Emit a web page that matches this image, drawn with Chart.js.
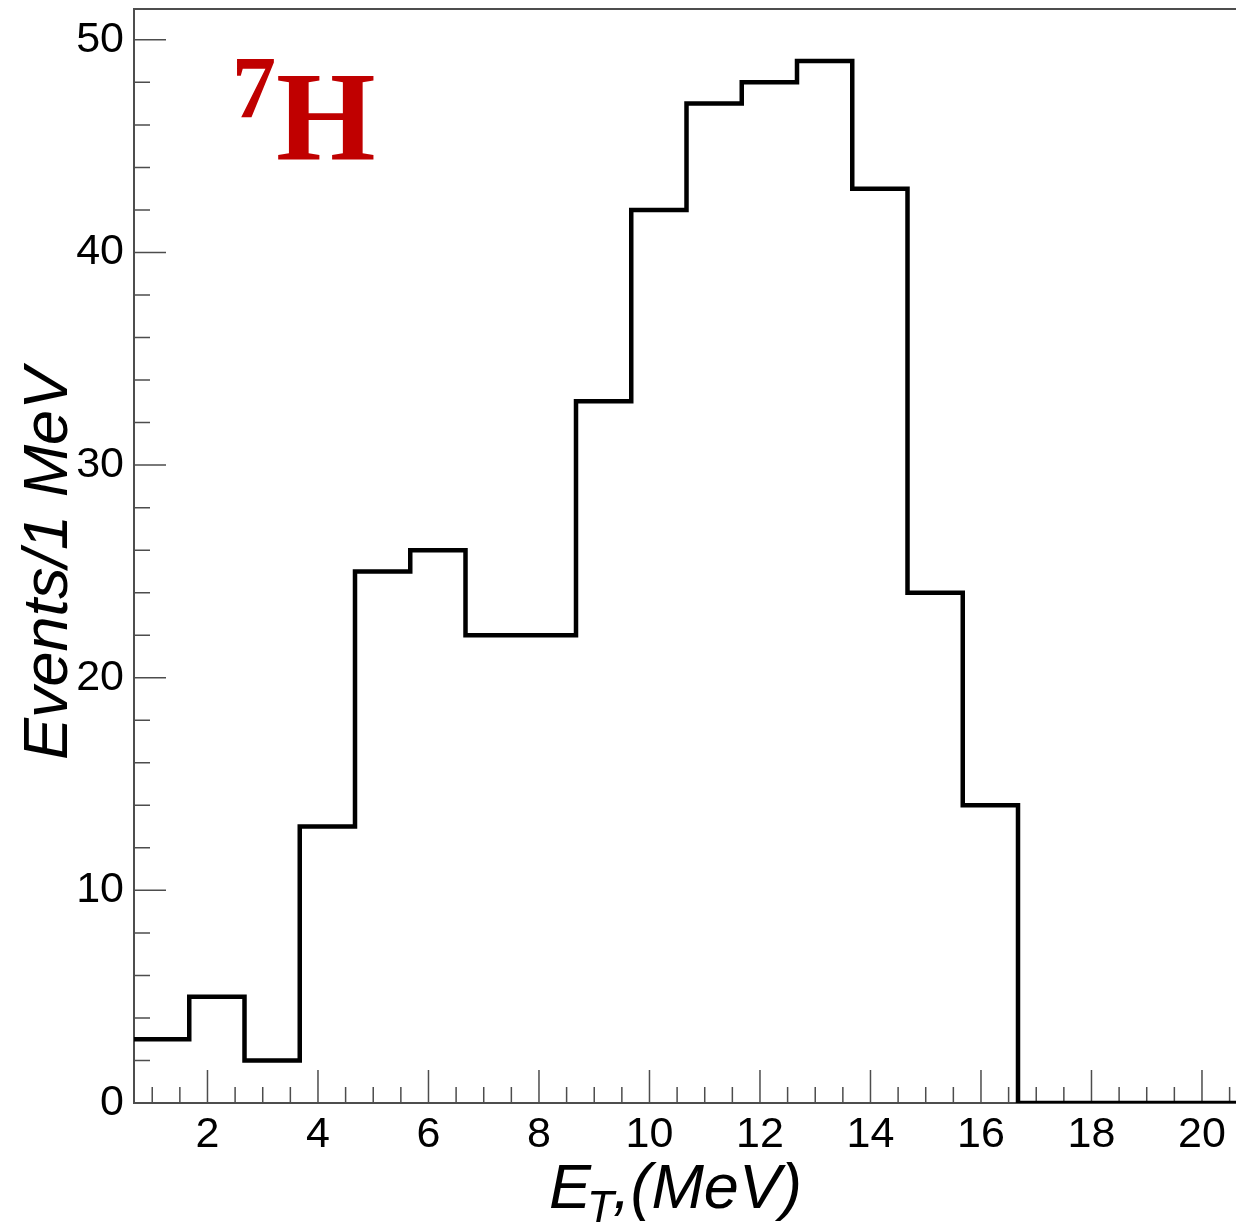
<!DOCTYPE html>
<html>
<head>
<meta charset="utf-8">
<script src="https://cdn.jsdelivr.net/npm/chart.js@4/dist/chart.umd.min.js"></script>
<style>
  html, body { margin: 0; padding: 0; background: #fff; overflow: hidden; }
  #wrap { width: 1242px; height: 1224px; }
</style>
</head>
<body>
<div id="wrap"><canvas id="chart-et" width="1242" height="1224"></canvas></div>
<script>
// === Données de l'histogramme (bins de 1 MeV) ===
const binEdges = [0.67, 1.67, 2.67, 3.67, 4.67, 5.67, 6.67, 7.67, 8.67, 9.67, 10.67,
                  11.67, 12.67, 13.67, 14.67, 15.67, 16.67, 17.67, 18.67, 19.67, 20.67];
const counts = [3, 5, 2, 13, 25, 26, 22, 22, 33, 42, 47, 48, 49, 43, 24, 14, 0, 0, 0, 0];
const xTickLabels = [2, 4, 6, 8, 10, 12, 14, 16, 18, 20];
const yTickLabels = [0, 10, 20, 30, 40, 50];
const xTitle = ['E', 'T', ',(MeV)'];
const yTitle = 'Events/1 MeV';

// points au bord gauche de chaque bin + dernier bord
const points = counts.map((c, i) => ({ x: binEdges[i], y: c }));
points.push({ x: binEdges[binEdges.length - 1], y: counts[counts.length - 1] });

const axisColor = '#4d4d4d';
const sans = '"Liberation Sans", Arial, sans-serif';

// === Cadre, ticks intérieurs et textes façon ROOT ===
const rootAxes = {
    id: 'rootAxes',
    beforeDatasetsDraw(chart) {
        const { ctx, chartArea: a, scales: { x, y } } = chart;
        ctx.save();
        ctx.strokeStyle = axisColor;
        ctx.lineWidth = 2;
        ctx.strokeRect(a.left, a.top, a.right - a.left, a.bottom - a.top);

        ctx.lineWidth = 1.5;
        ctx.beginPath();
        // ticks axe X
        for (let v = 1; v <= 20.5; v += 0.5) {
            const px = x.getPixelForValue(v);
            const len = (v % 2 === 0) ? 33 : 16;
            ctx.moveTo(px, a.bottom);
            ctx.lineTo(px, a.bottom - len);
        }
        // ticks axe Y
        for (let v = 0; v <= 50; v += 2) {
            const py = y.getPixelForValue(v);
            const len = (v % 10 === 0) ? 32 : 16;
            ctx.moveTo(a.left, py);
            ctx.lineTo(a.left + len, py);
        }
        ctx.stroke();
        ctx.restore();
    },
    afterDraw(chart) {
        const { ctx, chartArea: a, scales: { x, y } } = chart;
        ctx.save();
        ctx.fillStyle = '#000';
        ctx.font = '43px ' + sans;

        ctx.textAlign = 'center';
        ctx.textBaseline = 'alphabetic';
        xTickLabels.forEach(v => ctx.fillText(String(v), x.getPixelForValue(v), 1147));

        ctx.textAlign = 'right';
        ctx.textBaseline = 'middle';
        yTickLabels.forEach(v => ctx.fillText(String(v), 124, y.getPixelForValue(v)));

        // titre axe X : E_T,(MeV)
        ctx.textAlign = 'left';
        ctx.textBaseline = 'alphabetic';
        let cx = 549;
        ctx.font = 'italic 63px ' + sans;
        ctx.fillText(xTitle[0], cx, 1208);
        cx += ctx.measureText(xTitle[0]).width - 4;
        ctx.font = 'italic 44px ' + sans;
        ctx.fillText(xTitle[1], cx, 1222);
        cx += ctx.measureText(xTitle[1]).width - 1;
        ctx.font = 'italic 63px ' + sans;
        ctx.fillText(xTitle[2], cx, 1208);

        // titre axe Y
        ctx.save();
        ctx.translate(67, 760);
        ctx.rotate(-Math.PI / 2);
        ctx.font = 'italic 63px ' + sans;
        ctx.fillText(yTitle, 0, 0);
        ctx.restore();

        // étiquette 7H
        ctx.fillStyle = '#c00000';
        ctx.font = 'bold 88px "Liberation Serif", "Times New Roman", serif';
        ctx.fillText('7', 232, 117);
        ctx.font = 'bold 128px "Liberation Serif", "Times New Roman", serif';
        ctx.fillText('H', 276, 159);
        ctx.restore();
    }
};

const ctxEt = document.getElementById('chart-et');
if (ctxEt) {
    new Chart(ctxEt, {
        type: 'line',
        data: {
            datasets: [{
                label: 'E_T',
                data: points,
                stepped: true,
                borderColor: '#000',
                borderWidth: 4.5,
                borderJoinStyle: 'miter',
                borderCapStyle: 'butt',
                pointRadius: 0,
                fill: false
            }]
        },
        options: {
            responsive: false,
            animation: false,
            devicePixelRatio: 1,
            layout: { padding: { left: 134, right: 3, top: 9, bottom: 121 } },
            plugins: { legend: { display: false }, tooltip: { enabled: false } },
            scales: {
                x: { type: 'linear', min: 0.67, max: 20.67, display: false },
                y: { type: 'linear', min: 0, max: 51.45, display: false }
            }
        },
        plugins: [rootAxes]
    });
}
</script>
</body>
</html>
